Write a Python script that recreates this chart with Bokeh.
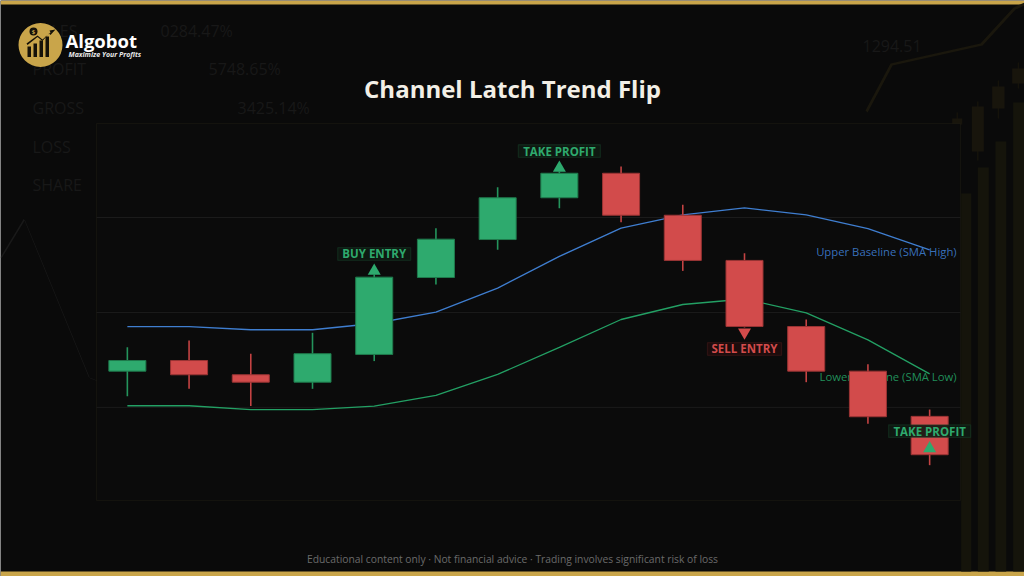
from bokeh.plotting import figure
from bokeh.models import (ColumnDataSource, Label, BoxAnnotation, PolyAnnotation, Range1d)
from bokeh.core.properties import value
from bokeh.embed import file_html
from bokeh.resources import INLINE

# ---------------- data ----------------
bars = list(range(14))
opens  = [101.91, 102.47, 101.72, 101.33, 102.79, 106.84, 108.84, 111.04, 112.33, 110.12, 107.74, 104.26, 101.91, 99.53]
closes = [102.47, 101.72, 101.33, 102.83, 106.86, 108.86, 111.04, 112.33, 110.12, 107.74, 104.26, 101.91, 99.51, 97.51]
highs  = [103.17, 103.53, 102.83, 103.93, 107.00, 109.44, 111.59, 112.42, 112.68, 110.67, 108.12, 104.63, 102.28, 99.89]
lows   = [100.59, 100.98, 100.07, 100.98, 102.44, 106.47, 108.30, 110.49, 109.75, 107.19, 104.21, 101.33, 99.14, 96.96]
sma_high = [104.26, 104.26, 104.09, 104.09, 104.42, 105.02, 106.28, 107.95, 109.44, 110.14, 110.51, 110.14, 109.41, 108.30]
sma_low  = [100.09, 100.09, 99.88, 99.88, 100.07, 100.63, 101.74, 103.16, 104.63, 105.42, 105.71, 104.98, 103.56, 101.77]
grid_levels = [100, 105, 110]
signal_bars = [4, 7, 10, 13]
signal_texts = ["BUY ENTRY", "TAKE PROFIT", "SELL ENTRY", "TAKE PROFIT"]
signal_kinds = ["long", "long", "short", "long"]
signal_anchor = ["high", "high", "low", "close"]
title_text = "Channel Latch Trend Flip"
upper_name = "Upper Baseline (SMA High)"
lower_name = "Lower Baseline (SMA Low)"
footer_text = "Educational content only \u00b7 Not financial advice \u00b7 Trading involves significant risk of loss"
brand_name = "Algobot"
brand_tag = "Maximize Your Profits"
bg_stats = [("SALES", 32, 30), ("0284.47%", 160, 30), ("PROFIT", 32, 68), ("5748.65%", 208, 68),
            ("GROSS", 32, 107), ("3425.14%", 237, 107), ("LOSS", 32, 146), ("SHARE", 32, 184),
            ("1294.51", 862, 45)]

# ---------------- style ----------------
GREEN = "#2eaa6e"
GREEN_EDGE = "#1f7a4c"
RED = "#d24b4b"
RED_EDGE = "#9a3434"
BLUE = "#3f7ed0"
LINE_GREEN = "#23a064"
BG = "#0b0b0b"
PAGE_BG = "#0a0a0a"
GOLD = "#c9a54a"
FONT = "Open Sans"

W, H = 1024, 576
# chart rectangle on the canvas (px) and its data extents
CL, CR, CT, CB = 96, 960, 123, 500
X_LO, X_HI = -0.5, 13.5
Y_LO, Y_HI = 95.1, 114.95
PXX = (CR - CL) / (X_HI - X_LO)      # px per bar
PY = (Y_HI - Y_LO) / (CB - CT)       # price per px

p = figure(width=W, height=H,
           x_range=Range1d(X_LO - CL / PXX, X_HI + (W - CR) / PXX),
           y_range=Range1d(Y_LO - (H - CB) * PY, Y_HI + CT * PY),
           x_axis_type=None, y_axis_type=None, toolbar_location=None,
           output_backend="svg", title=None)
p.min_border = 0
p.background_fill_color = PAGE_BG
p.border_fill_color = PAGE_BG
p.outline_line_color = None


def sx(x):  # canvas x -> screen units
    return x


def sy(y):  # canvas y (top-down) -> screen units (bottom-up)
    return H - y


def sbox(l, r, t, b, **kw):
    return BoxAnnotation(left=sx(l), right=sx(r), top=sy(t), bottom=sy(b),
                         left_units="screen", right_units="screen", top_units="screen",
                         bottom_units="screen", **kw)


def sstroke(pts, w, color):
    # thin filled band following a path (background decoration)
    xs = [sx(x) for x, _ in pts] + [sx(x + w * 0.7) for x, _ in reversed(pts)]
    ys = [sy(y) for _, y in pts] + [sy(y + w * 0.7) for _, y in reversed(pts)]
    return PolyAnnotation(xs=xs, ys=ys, xs_units="screen", ys_units="screen", fill_color=color,
                          fill_alpha=1, line_color=None, level="underlay")


# ---------- page decorations ----------
p.add_layout(sbox(0, W, 0, 4, fill_color=GOLD, fill_alpha=1, line_color=None, level="underlay"))
p.add_layout(sbox(0, W, 571, H, fill_color=GOLD, fill_alpha=1, line_color=None, level="underlay"))

for txt, x, y in bg_stats:
    p.add_layout(Label(x=sx(x), y=sy(y), x_units="screen", y_units="screen", text=txt,
                       text_font=FONT, text_font_size="16px", text_color="#181818",
                       text_baseline="middle", text_align="left", level="underlay"))

p.add_layout(sstroke([(0, 256.7), (23.3, 218.3), (88.3, 376.7), (96.7, 380)], 1.6, "#191919"))
p.add_layout(sstroke([(865, 110), (890, 63), (980, 43), (1013, 7), (1024, 2)], 3.0, "#1a170d"))

for l, r, t, b in [(960.7, 970.7, 193, 571), (977.3, 988.3, 167, 571), (995, 1005.7, 141, 571),
                   (1012.7, 1024, 102, 571)]:
    p.add_layout(sbox(l, r, t, b, fill_color="#15140b", fill_alpha=1, line_color=None, level="underlay"))
for l, r, t, b, wt, wb in [(971.3, 983.3, 106, 151, 101, 160), (991.7, 1004, 86, 108, 80, 118),
                           (1011.7, 1024, 68, 83, 62, 88), (951.7, 961.7, 118, 124, 112, 124)]:
    c = (l + r) / 2
    p.add_layout(sbox(c - 0.6, c + 0.6, wt, wb, fill_color="#17140b", fill_alpha=1, line_color=None,
                      level="underlay"))
    p.add_layout(sbox(l, r, t, b, fill_color="#18150c", fill_alpha=1, line_color=None, level="underlay"))

# logo
p.add_layout(sbox(18, 62, 22.5, 66.5, fill_color=GOLD, fill_alpha=1, line_color=None, border_radius=22))
for l, r, t in [(27, 30.5, 46), (33, 36.5, 43), (39, 42.5, 40), (45, 48.5, 36)]:
    p.add_layout(sbox(l, r, t, 56.5, fill_color="#161208", fill_alpha=1, line_color=None))
p.add_layout(PolyAnnotation(xs=[sx(v) for v in [26, 37, 42, 50, 49, 55, 50, 48.5, 42, 37, 27]],
                            ys=[sy(v) for v in [43, 35, 39, 32, 30, 29, 34.5, 33, 40.5, 36.5, 44.5]],
                            xs_units="screen", ys_units="screen", fill_color="#161208", fill_alpha=1,
                            line_color=None))
p.add_layout(sbox(29, 37, 27, 35, fill_color="#161208", fill_alpha=1, line_color=None, border_radius=4))
p.add_layout(Label(x=sx(33), y=sy(31), x_units="screen", y_units="screen", text="$",
                   text_font=FONT, text_font_size="6px", text_font_style="bold",
                   text_color=GOLD, text_align="center", text_baseline="middle"))
p.add_layout(Label(x=sx(65), y=sy(39.5), x_units="screen", y_units="screen", text=brand_name,
                   text_font=FONT, text_font_size="18.5px", text_font_style="bold",
                   text_color="#ffffff", text_align="left", text_baseline="middle"))
p.add_layout(Label(x=sx(68), y=sy(53.5), x_units="screen", y_units="screen", text=brand_tag,
                   text_font=FONT, text_font_size="7px", text_font_style="bold italic",
                   text_color="#e8e8e8", text_align="left", text_baseline="middle"))

# title & footer
p.add_layout(Label(x=sx(512), y=sy(88), x_units="screen", y_units="screen", text=title_text,
                   text_font=FONT, text_font_size="24px", text_font_style="bold",
                   text_color="#f2efe6", text_align="center", text_baseline="middle"))
p.add_layout(Label(x=sx(512), y=sy(558), x_units="screen", y_units="screen", text=footer_text,
                   text_font=FONT, text_font_size="10.3px", text_color="#6a6a6a",
                   text_align="center", text_baseline="middle"))

# ---------------- chart ----------------
p.add_layout(BoxAnnotation(left=X_LO, right=X_HI, bottom=Y_LO, top=Y_HI, fill_color=BG, fill_alpha=1,
                           line_color="#302a1b", line_width=1.2, level="underlay"))
p.segment(x0=[X_LO] * len(grid_levels), x1=[X_HI] * len(grid_levels), y0=grid_levels, y1=grid_levels,
          line_color="#1b1b1b", line_width=1)

p.line(bars, sma_high, line_color=BLUE, line_width=1.3)
p.line(bars, sma_low, line_color=LINE_GREEN, line_width=1.3)
p.text(x=[bars[-1]], y=[sma_high[-1]], text=[upper_name], x_offset=27, y_offset=2,
       text_font=value(FONT), text_font_size="11.3px", text_color=BLUE, text_alpha=0.9,
       text_align="right", text_baseline="middle")
p.text(x=[bars[-1]], y=[sma_low[-1]], text=[lower_name], x_offset=27, y_offset=3,
       text_font=value(FONT), text_font_size="11.3px", text_color=LINE_GREEN, text_alpha=0.9,
       text_align="right", text_baseline="middle")

up = [c >= o for o, c in zip(opens, closes)]
src = ColumnDataSource(dict(
    x=bars, open=opens, close=closes, high=highs, low=lows,
    top=[max(o, c) for o, c in zip(opens, closes)],
    bottom=[min(o, c) for o, c in zip(opens, closes)],
    fill=[GREEN if u else RED for u in up],
    edge=[GREEN_EDGE if u else RED_EDGE for u in up],
    wick=["#24945c" if u else "#c44343" for u in up],
))
p.segment(x0="x", y0="low", x1="x", y1="high", source=src, line_color="wick", line_width=1.6)
p.vbar(x="x", width=0.6, top="top", bottom="bottom", source=src, fill_color="fill",
       line_color="edge", line_width=1)

# signals
anchors = {"high": highs, "low": lows, "close": closes}
marker_off = {"high": 3.5, "low": -4.8, "close": 6.3}     # px, up positive
label_off = {"high": 20.5, "low": -21.5, "close": 23.6}   # px, up positive
box_w = [73, 82, 74, 82]                                  # px
BOX_H = 12.6
for b, txt, kind, anc, bw in zip(signal_bars, signal_texts, signal_kinds, signal_anchor, box_w):
    a = anchors[anc][b]
    col = GREEN if kind == "long" else RED
    edge = "#1d5a38" if kind == "long" else "#6a2525"
    bgc = "#0e1a12" if kind == "long" else "#1e0c0c"
    marker = "triangle" if kind == "long" else "inverted_triangle"
    p.scatter([b], [a + marker_off[anc] * PY], marker=marker, size=13, fill_color=col, line_color=None)
    cy = a + label_off[anc] * PY
    p.add_layout(BoxAnnotation(left=b - bw / 2 / PXX, right=b + bw / 2 / PXX,
                               bottom=cy - BOX_H / 2 * PY, top=cy + BOX_H / 2 * PY,
                               fill_color=bgc, fill_alpha=0.9, line_color=edge, line_width=1.3))
    p.add_layout(Label(x=b, y=cy, text=txt, text_font=FONT,
                       text_font_size="11.5px", text_font_style="bold", text_color=col,
                       text_align="center", text_baseline="middle"))

open("out.html", "w").write(file_html(p, INLINE))
